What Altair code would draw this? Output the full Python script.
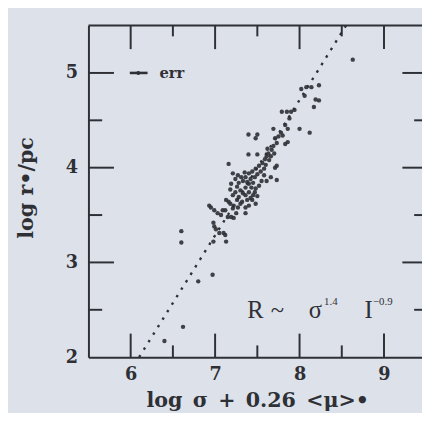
import altair as alt
import pandas as pd

# ---- data ----
pt_x = [8.63,
        8.02, 8.08, 8.14, 8.23, 8.06, 8.19, 8.23, 8.17,
        7.79, 7.85, 7.90, 7.94, 7.88, 7.83, 7.86, 8.00, 8.12,
        7.69, 7.395, 7.50, 7.48,
        7.86, 7.83, 7.71, 7.73, 7.69, 7.67, 7.63, 7.61, 7.59, 7.56, 7.52, 7.48, 7.44, 7.40, 7.36,
        7.66, 7.64, 7.60, 7.58, 7.54, 7.50, 7.47, 7.70, 7.75, 7.78, 7.80, 7.62,
        7.395, 7.50, 7.16, 7.73, 7.71, 7.61, 7.73, 7.66, 7.55, 7.58,
        7.21, 7.24, 7.19, 7.28, 7.33, 7.40, 7.45, 7.36, 7.30, 7.24, 7.21, 7.28, 7.40, 7.48, 7.52, 7.45, 7.36,
        7.42, 7.38, 7.43, 7.47, 7.50, 7.44, 7.33, 7.26, 7.31, 7.35, 7.27, 7.42, 7.38, 7.32, 7.26, 7.18,
        7.13, 7.16, 7.09, 6.95, 6.99, 7.03, 7.07, 7.21, 7.22, 7.27, 7.36, 7.40, 7.48, 7.36, 7.15, 7.19, 7.22,
        6.98, 6.99, 7.01, 7.05, 7.10, 7.13, 6.98, 7.12, 6.93, 7.12, 7.18, 7.25, 7.30,
        6.60, 6.60, 6.80, 6.97, 6.62, 6.40]
pt_y = [5.14,
        4.83, 4.85, 4.85, 4.87, 4.76, 4.72, 4.71, 4.64,
        4.59, 4.59, 4.59, 4.61, 4.52, 4.45, 4.41, 4.41, 4.37,
        4.41, 4.35, 4.35, 4.31,
        4.27, 4.25, 4.31, 4.26, 4.23, 4.19, 4.15, 4.12, 4.09, 4.05, 4.02, 3.99, 3.96, 3.94, 3.90,
        4.12, 4.08, 4.03, 3.99, 3.96, 3.93, 3.90, 4.15, 4.33, 4.37, 4.34, 4.20,
        4.14, 4.14, 4.04, 4.02, 4.00, 3.86, 3.87, 3.90, 3.86, 3.92,
        3.94, 3.88, 3.83, 3.84, 3.86, 3.83, 3.84, 3.79, 3.76, 3.74, 3.71, 3.69, 3.74, 3.78, 3.81, 3.71, 3.71,
        3.88, 3.85, 3.79, 3.74, 3.70, 3.66, 3.73, 3.80, 3.90, 3.95, 3.92, 3.68, 3.66, 3.64, 3.66, 3.77,
        3.66, 3.64, 3.55, 3.58, 3.55, 3.52, 3.50, 3.57, 3.60, 3.58, 3.58, 3.60, 3.62, 3.52, 3.48, 3.48, 3.47,
        3.42, 3.38, 3.35, 3.31, 3.31, 3.22, 3.22, 3.29, 3.60, 3.55, 3.62, 3.52, 3.62,
        3.33, 3.21, 2.80, 2.87, 2.32, 2.17]

fit_x = [6.1, 8.55]          # R ~ sigma^1.4 relation drawn as dotted line
fit_y = [2.0, 5.5]

x_major = [6, 7, 8, 9]
x_minor = [6.5, 7.5, 8.5]
y_major = [3, 4, 5]
y_minor = [2.5, 3.5, 4.5]
y_labels = [2, 3, 4, 5]

err_x = [5.99, 6.20]
err_y = [5.0, 5.0]
err_mid = [6.09]

anno_text = ["R", "~", "σ", "1.4", "I", "−0.9"]
anno_x = [7.38, 7.66, 8.11, 8.29, 8.77, 8.87]
anno_y = [2.414, 2.414, 2.414, 2.55, 2.414, 2.55]
anno_size = [25, 25, 25, 11, 25, 11]

# ---- styling ----
W, H = 340, 338
XDOM = [5.5, 9.45]
YDOM = [2.0, 5.5]
INK = "#2e3035"
BG = "#dde1e9"
FONT = "DejaVu Serif"

xs = alt.Scale(domain=XDOM, nice=False, zero=False)
ys = alt.Scale(domain=YDOM, nice=False, zero=False)

x_axis = alt.Axis(values=x_major, ticks=False, grid=False, domainColor=INK, domainWidth=2,
                  labelFont=FONT, labelFontWeight="bold", labelFontSize=18, labelColor=INK,
                  labelPadding=9, labelOverlap=False, labelFlush=False,
                  title="log\u2002σ\u2002+\u20020.26\u2002<μ>•", titleFont=FONT, titleFontWeight="bold",
                  titleFontSize=21, titleColor=INK, titleX=172, titleY=50,
                  titleBaseline="alphabetic", titleAlign="center")
y_axis = alt.Axis(values=y_labels, ticks=False, grid=False, domainColor=INK, domainWidth=2,
                  labelFont=FONT, labelFontWeight="bold", labelFontSize=18, labelColor=INK,
                  labelPadding=11, labelOverlap=False, labelFlush=False,
                  title="log r•/pc", titleFont=FONT, titleFontWeight="bold", titleFontSize=21,
                  titleColor=INK, titleAngle=270, titleX=-57, titleY=165,
                  titleBaseline="alphabetic", titleAlign="center")


def X(field):
    return alt.X(field, type="quantitative", scale=xs, axis=x_axis)


def Y(field):
    return alt.Y(field, type="quantitative", scale=ys, axis=y_axis)


def sym(length_px):
    # a unit path drawn as a symbol is scaled by sqrt(size)/2
    return (2 * length_px) ** 2


pts = pd.DataFrame({"x": pt_x, "y": pt_y})
fit = pd.DataFrame({"x": fit_x, "y": fit_y})
err = pd.DataFrame({"x": err_x, "y": err_y})
errdot = pd.DataFrame({"x": err_mid, "y": [err_y[0]]})
anno = pd.DataFrame({"x": anno_x, "y": anno_y, "t": anno_text, "s": anno_size})
frame_top = pd.DataFrame({"x": XDOM, "y": [YDOM[1], YDOM[1]]})

# tick anchors on the frame edges; tick length carried by the symbol size
bottom_df = pd.DataFrame({"x": x_major + x_minor, "y": YDOM[0],
                          "s": [sym(24)] * len(x_major) + [sym(12)] * len(x_minor)})
top_df = pd.DataFrame({"x": x_major + x_minor, "y": YDOM[1],
                       "s": [sym(24)] * len(x_major) + [sym(11)] * len(x_minor)})
left_df = pd.DataFrame({"x": XDOM[0], "y": y_major + y_minor,
                        "s": [sym(26)] * len(y_major) + [sym(14)] * len(y_minor)})
right_df = pd.DataFrame({"x": XDOM[1], "y": y_major + y_minor,
                         "s": [sym(20)] * len(y_major) + [sym(8)] * len(y_minor)})


def tick_layer(df, path):
    return alt.Chart(df).mark_point(shape=path, filled=False, color=INK, strokeWidth=2,
                                    opacity=1).encode(
        x=X("x"), y=Y("y"), size=alt.Size("s:Q", scale=None, legend=None))


tick_layers = [
    tick_layer(bottom_df, "M0,0L0,-1"),
    tick_layer(top_df, "M0,0L0,1"),
    tick_layer(left_df, "M0,0L1,0"),
    tick_layer(right_df, "M0,0L-1,0"),
]

points = alt.Chart(pts).mark_circle(size=20, color=INK, opacity=0.9).encode(x=X("x"), y=Y("y"))

fitline = alt.Chart(fit).mark_line(color=INK, strokeWidth=2.4, strokeDash=[2.5, 6.5]).encode(
    x=X("x"), y=Y("y"))

topline = alt.Chart(frame_top).mark_line(color=INK, strokeWidth=2).encode(x=X("x"), y=Y("y"))

errbar = alt.Chart(err).mark_line(color=INK, strokeWidth=2.6).encode(x=X("x"), y=Y("y"))
errcentre = alt.Chart(errdot).mark_circle(size=16, color=INK, opacity=1).encode(x=X("x"), y=Y("y"))
errtext = alt.Chart(pd.DataFrame({"x": [6.34], "y": [5.0], "t": ["err"]})).mark_text(
    font=FONT, fontWeight="bold", fontSize=15, color=INK, align="left", baseline="middle").encode(
    x=X("x"), y=Y("y"), text="t:N")

annot = alt.Chart(anno).mark_text(font="Liberation Serif", color=INK, align="left",
                                  baseline="alphabetic").encode(
    x=X("x"), y=Y("y"), text="t:N", size=alt.Size("s:Q", scale=None, legend=None))

chart = alt.layer(points, fitline, topline, *tick_layers, errbar, errcentre, errtext, annot).properties(
    width=W, height=H,
    autosize=alt.AutoSizeParams(type="none"),
    padding={"left": 82, "top": 14, "right": 0, "bottom": 53},
    background=BG,
).configure_view(stroke=None)

chart.save("out.html", embed_options={"renderer": "svg", "actions": False})
